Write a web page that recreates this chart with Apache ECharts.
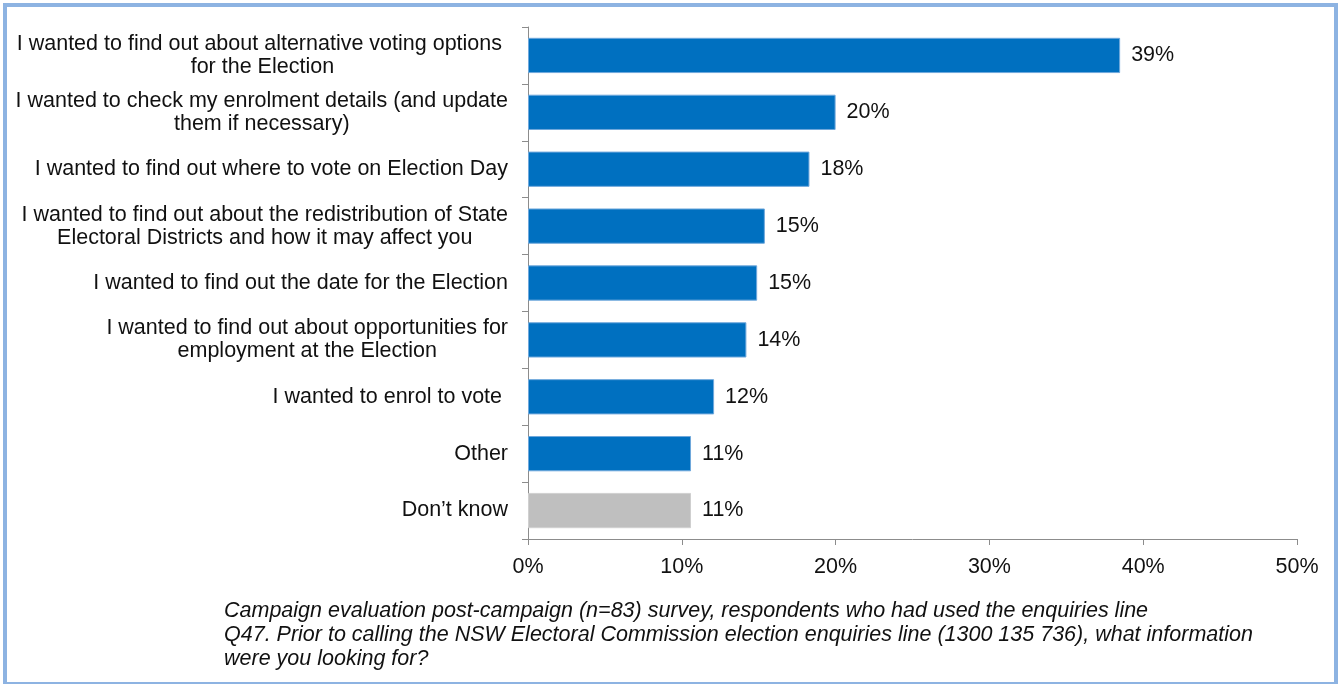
<!DOCTYPE html>
<html>
<head>
<meta charset="utf-8">
<script src="https://cdn.jsdelivr.net/npm/echarts@6/dist/echarts.min.js"></script>
<style>
  html, body { margin: 0; padding: 0; background: #fff; overflow: hidden; }
  #frame { position: absolute; left: 3px; top: 3px; width: 1327px; height: 675px; border: 4px solid #8DB3E2; }
  #chart { position: absolute; left: 0; top: 0; width: 1338px; height: 684px; }
</style>
</head>
<body>
<div id="frame"></div>
<div id="chart"></div>
<script>
// Reasons for calling the enquiries line, top to bottom
const categories = [
  'I wanted to find out about alternative voting options \nfor the Election',
  'I wanted to check my enrolment details (and update\nthem if necessary)',
  'I wanted to find out where to vote on Election Day',
  'I wanted to find out about the redistribution of State\nElectoral Districts and how it may affect you',
  'I wanted to find out the date for the Election',
  'I wanted to find out about opportunities for\nemployment at the Election',
  'I wanted to enrol to vote ',
  'Other',
  'Don\u2019t know'
];
// Share of respondents (%)
const shares = [38.5, 20.0, 18.3, 15.4, 14.9, 14.2, 12.1, 10.6, 10.6];
// Bar colours: "Don't know" is shown in grey
const barColors = ['#0070C0', '#0070C0', '#0070C0', '#0070C0', '#0070C0', '#0070C0', '#0070C0', '#0070C0', '#BFBFBF'];
const barBorders = ['#6FA8DC', '#6FA8DC', '#6FA8DC', '#6FA8DC', '#6FA8DC', '#6FA8DC', '#6FA8DC', '#6FA8DC', '#D0D0D0'];
const xTicks = [0, 10, 20, 30, 40, 50];
const footnote = [
  'Campaign evaluation post-campaign (n=83) survey, respondents who had used the enquiries line',
  'Q47. Prior to calling the NSW Electoral Commission election enquiries line (1300 135 736), what information',
  'were you looking for?'
];

const FONT = 'Liberation Sans, Arial, sans-serif';
const FS = 21.5;
const chart = echarts.init(document.getElementById('chart'), null, { renderer: 'canvas' });

chart.setOption({
  animation: false,
  grid: { left: 528, right: 41, top: 27, bottom: 145, containLabel: false },
  xAxis: {
    type: 'value',
    min: xTicks[0],
    max: xTicks[xTicks.length - 1],
    interval: xTicks[1] - xTicks[0],
    axisLine: { show: true, lineStyle: { color: '#8C8C8C', width: 1 } },
    axisTick: { show: true, length: 6, lineStyle: { color: '#8C8C8C' } },
    splitLine: { show: false },
    axisLabel: {
      formatter: v => v + '%',
      color: '#111',
      fontFamily: FONT,
      fontSize: FS,
      margin: 17
    }
  },
  yAxis: {
    type: 'category',
    inverse: true,
    data: categories,
    axisLine: { show: true, lineStyle: { color: '#8C8C8C', width: 1 } },
    axisTick: { show: true, length: 6, lineStyle: { color: '#8C8C8C' } },
    axisLabel: {
      margin: 20,
      color: '#111',
      fontFamily: FONT,
      fontSize: FS,
      lineHeight: 23,
      formatter: v => v.split('\n').map(l => '{c|' + l + '}').join('\n'),
      rich: {
        c: { align: 'center', fontFamily: FONT, fontSize: FS, lineHeight: 23, color: '#111' }
      }
    }
  },
  series: [{
    type: 'bar',
    data: shares.map((v, i) => ({
      value: v,
      itemStyle: { color: barColors[i], borderColor: barBorders[i], borderWidth: 1 }
    })),
    barCategoryGap: '38%',
    label: {
      show: true,
      position: 'right',
      distance: 11,
      formatter: p => Math.round(p.value) + '%',
      color: '#111',
      fontFamily: FONT,
      fontSize: FS
    }
  }],
  graphic: [{
    type: 'text',
    left: 224,
    top: 599,
    style: {
      text: footnote.join('\n'),
      fontFamily: FONT,
      fontStyle: 'italic',
      fontSize: FS,
      lineHeight: 24,
      fill: '#111'
    }
  }]
});
</script>
</body>
</html>
